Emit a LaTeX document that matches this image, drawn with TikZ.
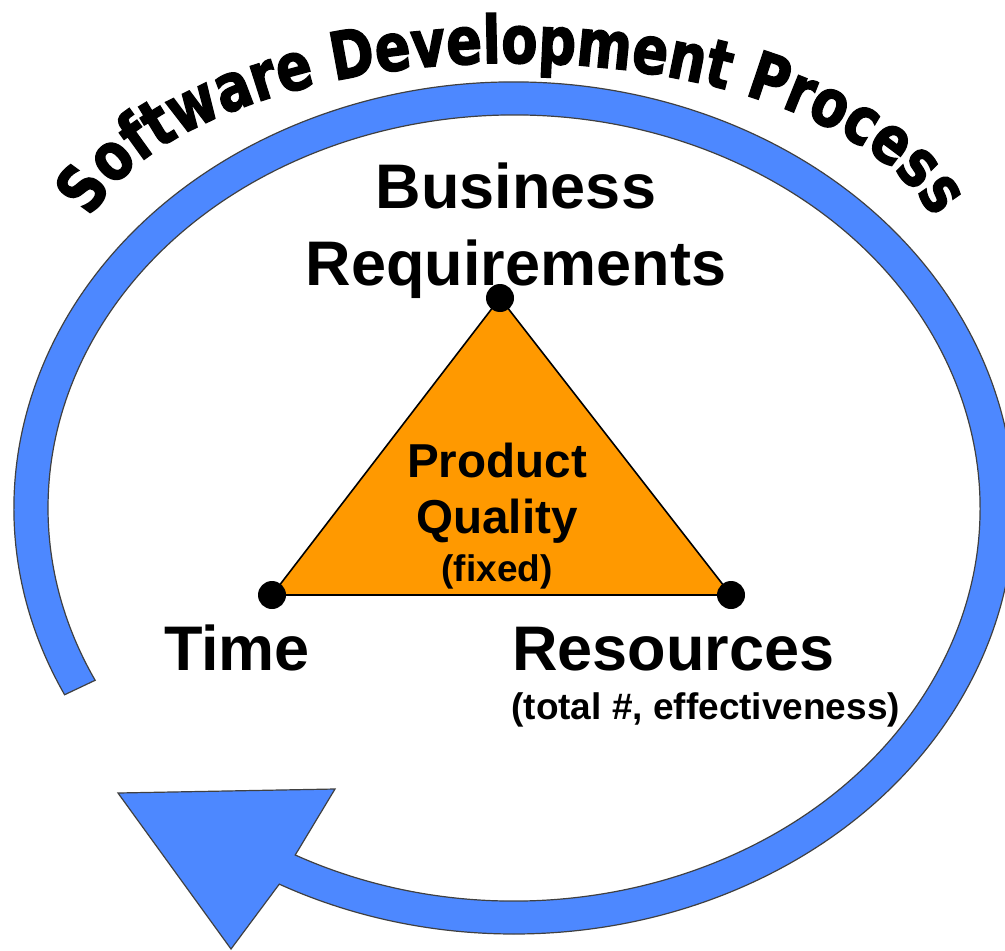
\documentclass[tikz,border=0pt]{standalone}
\usepackage{fontspec}
\setmainfont{Liberation Sans}
\newfontfamily\archfont[FakeStretch=0.8,FakeBold=2]{DejaVu Sans}
\usetikzlibrary{calc,decorations.text}

\definecolor{ringblue}{RGB}{77,136,255}
\definecolor{qualorange}{RGB}{255,153,0}

\begin{document}
\begin{tikzpicture}[
    x=0.5pt, y=0.5pt,
    lbl/.style={font=\fontsize{31.5}{36}\selectfont\bfseries, inner sep=0pt},
    inlbl/.style={font=\fontsize{23.8}{28}\selectfont\bfseries, inner sep=0pt},
    sublbl/.style={font=\fontsize{18.5}{22}\selectfont\bfseries, inner sep=0pt},
    vertex/.style={circle, fill=black, inner sep=0pt, minimum size=14pt}
  ]
  \useasboundingbox (0,0) rectangle (1005,950);
  \coordinate (ctr) at (514,442);
  \coordinate (tc) at (512,680);
  \coordinate (tip) at (231,1);
  \coordinate (headl) at (118,157);
  \coordinate (headr) at (335,161);

  \draw[fill=ringblue, draw=black!75, line width=0.6pt]
    ($(ctr)+(206:500 and 426)$) arc[start angle=206, end angle=-118, x radius=500, y radius=426]
    -- (tip) -- (headl) -- (headr)
    -- ($(ctr)+(-118:466 and 393)$) arc[start angle=-118, end angle=206, x radius=466, y radius=393]
    -- cycle;

  \path[decorate, decoration={text along path, text align=center,
      text={|\archfont\fontsize{33}{33}\selectfont\bfseries|Software Development Process}}]
    ($(tc)+(174:435 and 207)$) arc[start angle=174, end angle=6, x radius=435, y radius=207];

  \coordinate (biz) at (500,652);
  \coordinate (tm) at (272,355);
  \coordinate (rs) at (731,355);
  \draw[fill=qualorange, line width=0.8pt] (biz) -- (tm) -- (rs) -- cycle;
  \foreach \v in {biz,tm,rs}
    \node[vertex] (\v dot) at (\v) {};

  \node[lbl, anchor=base] (busi) at (516,742) {Business};
  \node[lbl, anchor=base] (req) at (516,665) {Requirements};
  \node[lbl, anchor=base] (time) at (237,280) {Time};
  \node[lbl, anchor=base west] (res) at (512,280) {Resources};
  \node[sublbl, anchor=base west] (resnote) at (511,231) {(total \#, effectiveness)};
  \node[inlbl, anchor=base] (prod) at (497,473) {Product};
  \node[inlbl, anchor=base] (qual) at (497,417) {Quality};
  \node[sublbl, anchor=base] (fixed) at (497,369) {(fixed)};
\end{tikzpicture}
\end{document}
